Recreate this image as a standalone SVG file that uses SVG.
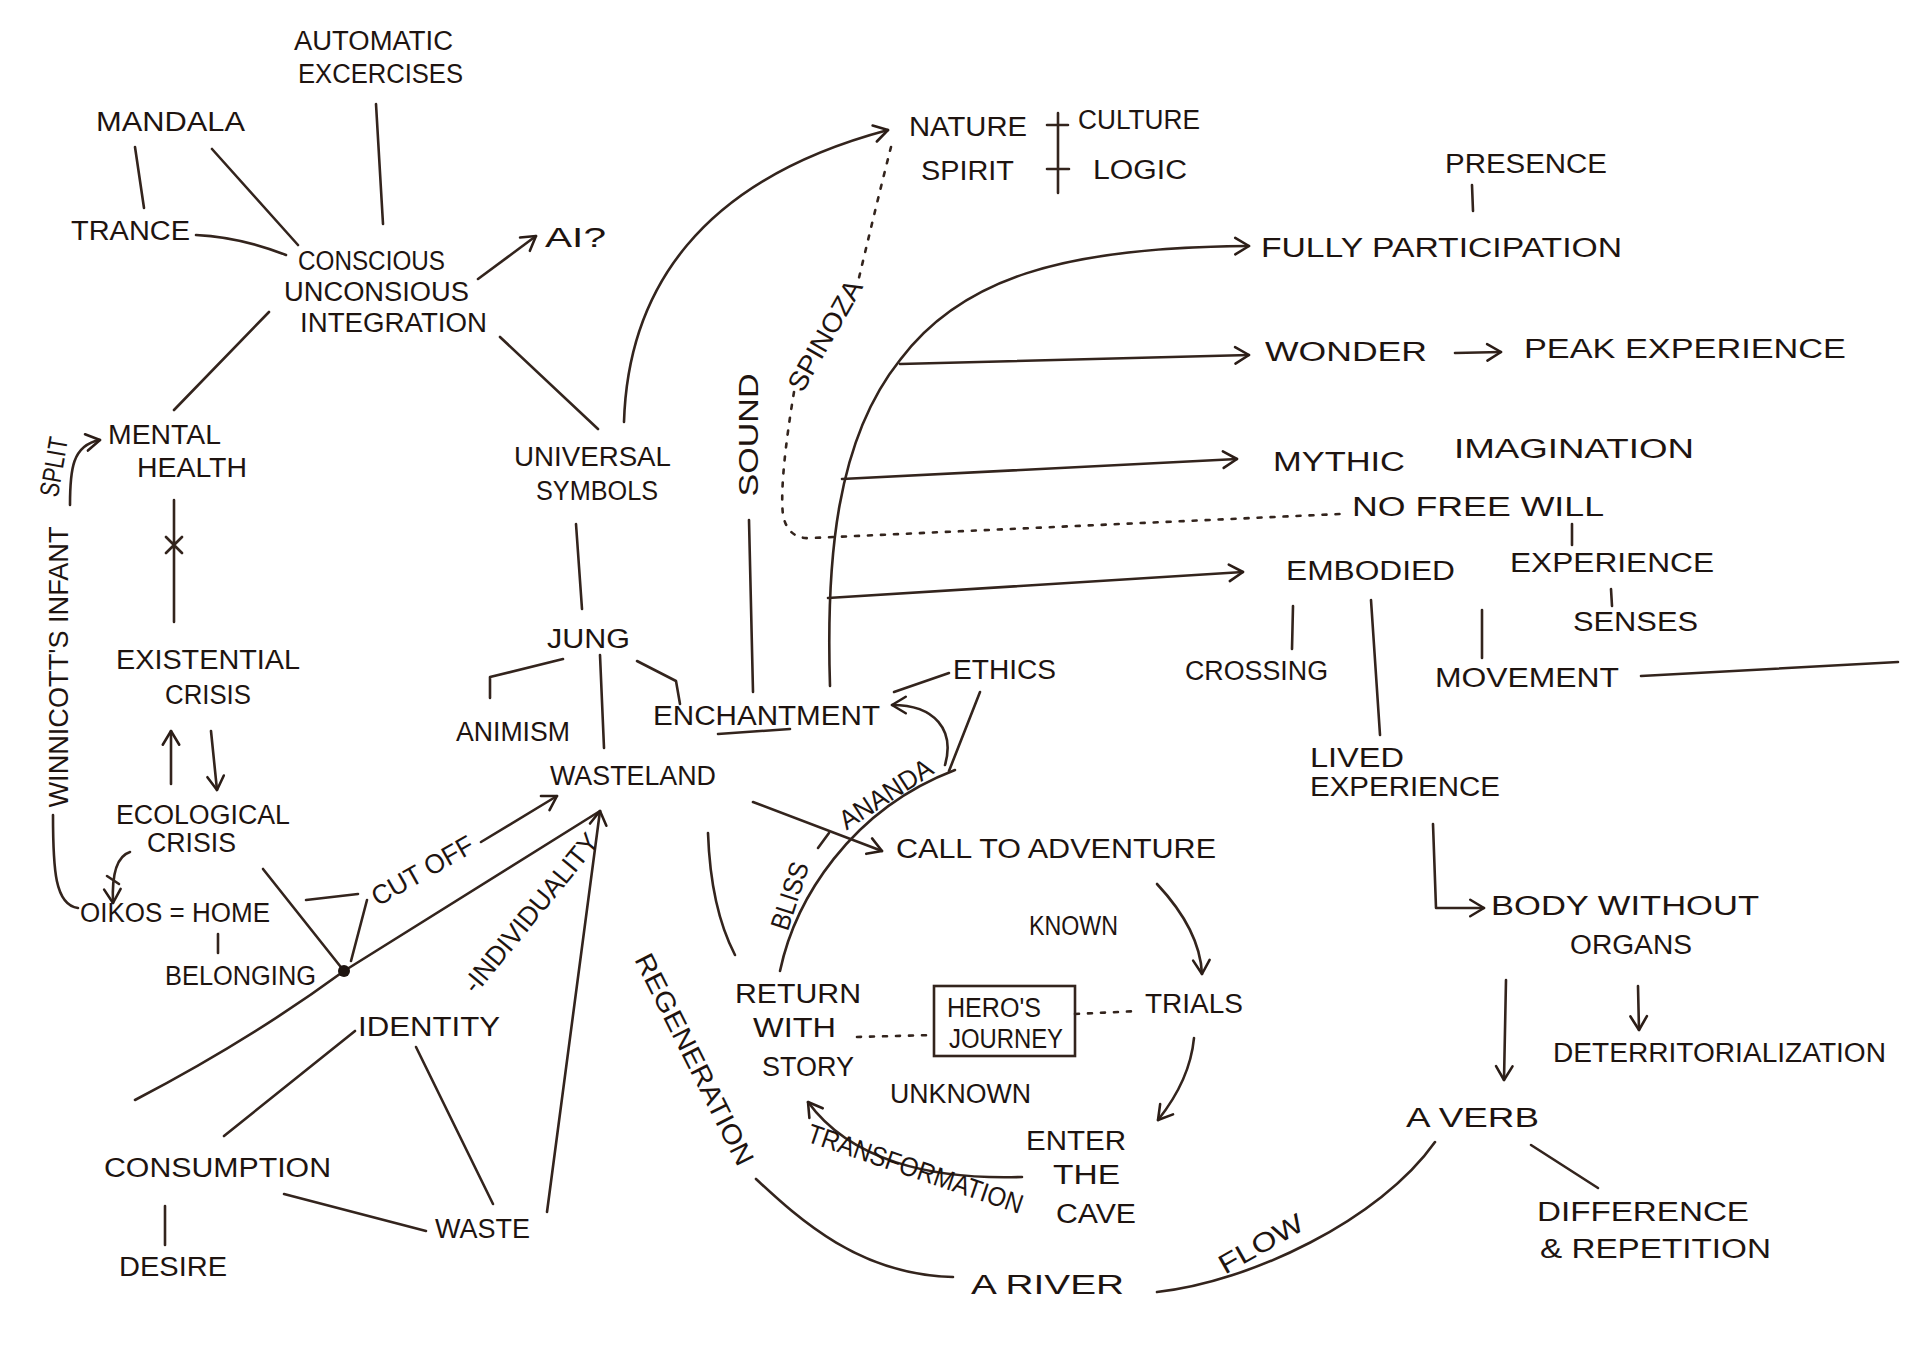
<svg xmlns="http://www.w3.org/2000/svg" width="1920" height="1358" viewBox="0 0 1920 1358">
<defs>
<style>
.t{font-family:"Liberation Sans",Arial,sans-serif;font-size:27px;fill:#1e1410;}
.c{fill:none;stroke:#33241d;stroke-width:2.6;stroke-linecap:round;stroke-linejoin:round;}
.d{fill:none;stroke:#33241d;stroke-width:2.6;stroke-linecap:round;stroke-dasharray:4 9;}
</style>
<marker id="ah" viewBox="0 0 24 24" refX="21" refY="12" markerWidth="22" markerHeight="22" markerUnits="userSpaceOnUse" orient="auto">
<path d="M6 3 L21 12 L6 21" fill="none" stroke="#2b1d17" stroke-width="2.8" stroke-linecap="round" stroke-linejoin="round"/>
</marker>
</defs>
<rect width="1920" height="1358" fill="#ffffff"/>

<g id="connectors">
<path class="c" d="M135 147 L144 208"/>
<path class="c" d="M212 149 L298 245"/>
<path class="c" d="M376 104 L383 224"/>
<path class="c" d="M196 235 Q240 237 286 255"/>
<path class="c" d="M478 279 L536 236" marker-end="url(#ah)"/>
<path class="c" d="M269 312 L174 410"/>
<path class="c" d="M500 337 L598 429"/>
<path class="c" d="M624 422 C628 290 700 180 888 130" marker-end="url(#ah)"/>
<path class="c" d="M576 524 L582 609"/>
<path class="c" d="M563 659 L490 677 L490 698"/>
<path class="c" d="M600 655 L604 748"/>
<path class="c" d="M637 661 L676 681 L680 704"/>
<path class="c" d="M749 520 L753 692"/>
<path class="c" d="M830 686 C826 560 836 440 900 360 C960 280 1060 247 1249 246" marker-end="url(#ah)"/>
<path class="c" d="M900 364 L1249 355" marker-end="url(#ah)"/>
<path class="c" d="M842 479 L1237 459" marker-end="url(#ah)"/>
<path class="c" d="M828 598 L1243 572" marker-end="url(#ah)"/>
<path class="c" d="M1455 353 L1501 352" marker-end="url(#ah)"/>
<path class="d" d="M891 147 C880 190 868 240 858 282"/>
<path class="d" d="M794 392 C786 440 780 490 783 515 Q788 540 812 538 L1340 514"/>
<path class="c" d="M1047 125 L1068 125 M1058 113 L1058 193 M1047 169 L1069 169"/>
<path class="c" d="M1472 185 L1473 211"/>
<path class="c" d="M1572 524 L1572 545"/>
<path class="c" d="M1611 589 L1612 606"/>
<path class="c" d="M1293 606 L1292 649"/>
<path class="c" d="M1371 600 L1380 735"/>
<path class="c" d="M1482 610 L1482 658"/>
<path class="c" d="M1641 676 L1898 662"/>
<path class="c" d="M1433 824 L1436 908 L1484 908" marker-end="url(#ah)"/>
<path class="c" d="M1506 980 L1504 1080" marker-end="url(#ah)"/>
<path class="c" d="M1638 986 L1639 1030" marker-end="url(#ah)"/>
<path class="c" d="M1531 1145 L1598 1188"/>
<path class="c" d="M1435 1142 C1380 1220 1250 1282 1157 1292"/>
<path class="c" d="M756 1179 C800 1220 860 1275 953 1277"/>
<path class="c" d="M753 802 L882 851" marker-end="url(#ah)"/>
<path class="c" d="M708 833 C710 890 722 930 735 955"/>
<path class="c" d="M780 971 C795 900 850 810 955 770"/>
<path class="c" d="M818 848 L829 833"/>
<path class="c" d="M945 765 C955 730 935 705 892 705" marker-end="url(#ah)"/>
<path class="c" d="M949 673 L894 692"/>
<path class="c" d="M980 692 L949 771"/>
<path class="c" d="M718 734 L790 729"/>
<path class="c" d="M1157 884 Q1200 930 1202 974" marker-end="url(#ah)"/>
<path class="c" d="M1194 1038 Q1190 1080 1158 1120" marker-end="url(#ah)"/>
<path class="c" d="M1022 1177 C930 1180 850 1160 808 1102" marker-end="url(#ah)"/>
<path class="d" d="M857 1037 L934 1035"/>
<path class="d" d="M1075 1014 L1139 1011"/>
<path class="c" d="M481 842 L557 796" marker-end="url(#ah)"/>
<path class="c" d="M306 900 L358 894 M367 900 L351 961"/>
<path class="c" d="M344 971 L600 811"/>
<path class="c" d="M547 1212 L600 811" marker-end="url(#ah)"/>
<path class="c" d="M344 971 Q250 1040 135 1100"/>
<path class="c" d="M263 869 L344 971"/>
<circle cx="344" cy="971" r="6" fill="#1e1410"/>
<path class="c" d="M355 1031 L224 1136"/>
<path class="c" d="M416 1047 L493 1204"/>
<path class="c" d="M284 1194 L426 1231"/>
<path class="c" d="M165 1206 L165 1245"/>
<path class="c" d="M218 934 L218 953"/>
<path class="c" d="M174 500 L174 622 M166 537 L182 553 M182 537 L166 553"/>
<path class="c" d="M171 784 L171 731" marker-end="url(#ah)"/>
<path class="c" d="M211 731 L217 790" marker-end="url(#ah)"/>
<path class="c" d="M107 876 L119 884"/>
<path class="c" d="M130 852 Q111 858 113 903" marker-end="url(#ah)"/>
<path class="c" d="M53 815 C53 870 55 905 78 908"/>
<path class="c" d="M70 505 C70 470 72 445 100 440" marker-end="url(#ah)"/>
</g>

<g id="automatic"><text class="t" x="294" y="50" font-size="28" textLength="159" lengthAdjust="spacingAndGlyphs">AUTOMATIC</text><text class="t" x="298" y="83" font-size="28" textLength="165" lengthAdjust="spacingAndGlyphs">EXCERCISES</text></g>
<g id="mandala"><text class="t" x="96" y="131" font-size="33" textLength="149" lengthAdjust="spacingAndGlyphs">MANDALA</text></g>
<g id="trance"><text class="t" x="71" y="240" font-size="31" textLength="119" lengthAdjust="spacingAndGlyphs">TRANCE</text></g>
<g id="conscious"><text class="t" x="298" y="270" font-size="26" textLength="147" lengthAdjust="spacingAndGlyphs">CONSCIOUS</text><text class="t" x="284" y="301" font-size="26" textLength="185" lengthAdjust="spacingAndGlyphs">UNCONSIOUS</text><text class="t" x="300" y="332" font-size="26" textLength="187" lengthAdjust="spacingAndGlyphs">INTEGRATION</text></g>
<g id="ai"><text class="t" x="545" y="247" font-size="46" textLength="61" lengthAdjust="spacingAndGlyphs">AI?</text></g>
<g id="mental-health"><text class="t" x="108" y="444" font-size="28" textLength="113" lengthAdjust="spacingAndGlyphs">MENTAL</text><text class="t" x="137" y="477" font-size="28" textLength="110" lengthAdjust="spacingAndGlyphs">HEALTH</text></g>
<g id="universal-symbols"><text class="t" x="514" y="466" font-size="28" textLength="157" lengthAdjust="spacingAndGlyphs">UNIVERSAL</text><text class="t" x="536" y="500" font-size="28" textLength="122" lengthAdjust="spacingAndGlyphs">SYMBOLS</text></g>
<g id="sound"><text class="t" transform="translate(747,435) rotate(-90)" x="0" y="11" font-size="30" text-anchor="middle" textLength="123" lengthAdjust="spacingAndGlyphs">SOUND</text></g>
<g id="spinoza"><text class="t" transform="translate(826,336) rotate(-60.3)" x="0" y="8" font-size="23" text-anchor="middle" textLength="123" lengthAdjust="spacingAndGlyphs">SPINOZA</text></g>
<g id="nature"><text class="t" x="909" y="136" font-size="30" textLength="118" lengthAdjust="spacingAndGlyphs">NATURE</text><text class="t" x="1078" y="129" font-size="28" textLength="122" lengthAdjust="spacingAndGlyphs">CULTURE</text><text class="t" x="921" y="180" font-size="28" textLength="93" lengthAdjust="spacingAndGlyphs">SPIRIT</text><text class="t" x="1093" y="179" font-size="28" textLength="94" lengthAdjust="spacingAndGlyphs">LOGIC</text></g>
<g id="presence"><text class="t" x="1445" y="173" font-size="29" textLength="162" lengthAdjust="spacingAndGlyphs">PRESENCE</text></g>
<g id="fully-participation"><text class="t" x="1261" y="257" font-size="42" textLength="361" lengthAdjust="spacingAndGlyphs">FULLY PARTICIPATION</text></g>
<g id="wonder"><text class="t" x="1265" y="361" font-size="33" textLength="162" lengthAdjust="spacingAndGlyphs">WONDER</text></g>
<g id="peak-experience"><text class="t" x="1524" y="358" font-size="33" textLength="322" lengthAdjust="spacingAndGlyphs">PEAK EXPERIENCE</text></g>
<g id="mythic-imagination"><text class="t" x="1273" y="471" font-size="37" textLength="132" lengthAdjust="spacingAndGlyphs">MYTHIC</text><text class="t" x="1454" y="458" font-size="38" textLength="240" lengthAdjust="spacingAndGlyphs">IMAGINATION</text></g>
<g id="no-free-will"><text class="t" x="1352" y="516" font-size="26" textLength="252" lengthAdjust="spacingAndGlyphs">NO FREE WILL</text></g>
<g id="embodied"><text class="t" x="1286" y="580" font-size="33" textLength="169" lengthAdjust="spacingAndGlyphs">EMBODIED</text></g>
<g id="experience"><text class="t" x="1510" y="572" font-size="31" textLength="204" lengthAdjust="spacingAndGlyphs">EXPERIENCE</text></g>
<g id="senses"><text class="t" x="1573" y="631" font-size="29" textLength="125" lengthAdjust="spacingAndGlyphs">SENSES</text></g>
<g id="crossing"><text class="t" x="1185" y="680" font-size="28" textLength="143" lengthAdjust="spacingAndGlyphs">CROSSING</text></g>
<g id="movement"><text class="t" x="1435" y="687" font-size="31" textLength="184" lengthAdjust="spacingAndGlyphs">MOVEMENT</text></g>
<g id="lived-experience"><text class="t" x="1310" y="767" font-size="29" textLength="94" lengthAdjust="spacingAndGlyphs">LIVED</text><text class="t" x="1310" y="796" font-size="29" textLength="190" lengthAdjust="spacingAndGlyphs">EXPERIENCE</text></g>
<g id="body-without-organs"><text class="t" x="1491" y="915" font-size="33" textLength="268" lengthAdjust="spacingAndGlyphs">BODY WITHOUT</text><text class="t" x="1570" y="954" font-size="33" textLength="122" lengthAdjust="spacingAndGlyphs">ORGANS</text></g>
<g id="deterritorialization"><text class="t" x="1553" y="1062" font-size="26" textLength="333" lengthAdjust="spacingAndGlyphs">DETERRITORIALIZATION</text></g>
<g id="a-verb"><text class="t" x="1406" y="1127" font-size="36" textLength="133" lengthAdjust="spacingAndGlyphs">A VERB</text></g>
<g id="difference-repetition"><text class="t" x="1537" y="1221" font-size="30" textLength="212" lengthAdjust="spacingAndGlyphs">DIFFERENCE</text><text class="t" x="1540" y="1258" font-size="30" textLength="231" lengthAdjust="spacingAndGlyphs">&amp; REPETITION</text></g>
<g id="a-river"><text class="t" x="971" y="1294" font-size="32" textLength="153" lengthAdjust="spacingAndGlyphs">A RIVER</text></g>
<g id="flow"><text class="t" transform="translate(1261,1244) rotate(-29.6)" x="0" y="9" font-size="26" text-anchor="middle" textLength="93" lengthAdjust="spacingAndGlyphs">FLOW</text></g>
<g id="regeneration"><text class="t" transform="translate(695,1059) rotate(63.4)" x="0" y="10" font-size="28" text-anchor="middle" textLength="233" lengthAdjust="spacingAndGlyphs">REGENERATION</text></g>
<g id="transformation"><text class="t" transform="translate(915,1170) rotate(18.8)" x="0" y="8" font-size="24" text-anchor="middle" textLength="226" lengthAdjust="spacingAndGlyphs">TRANSFORMATION</text></g>
<g id="enter-the-cave"><text class="t" x="1026" y="1150" font-size="29" textLength="100" lengthAdjust="spacingAndGlyphs">ENTER</text><text class="t" x="1053" y="1184" font-size="29" textLength="67" lengthAdjust="spacingAndGlyphs">THE</text><text class="t" x="1056" y="1223" font-size="29" textLength="80" lengthAdjust="spacingAndGlyphs">CAVE</text></g>
<g id="unknown"><text class="t" x="890" y="1103" font-size="22" textLength="141" lengthAdjust="spacingAndGlyphs">UNKNOWN</text></g>
<g id="heros-journey"><rect x="934" y="986" width="141" height="70" fill="none" stroke="#33241d" stroke-width="2.6"/><text class="t" x="947" y="1017" font-size="26" textLength="94" lengthAdjust="spacingAndGlyphs">HERO'S</text><text class="t" x="949" y="1048" font-size="26" textLength="114" lengthAdjust="spacingAndGlyphs">JOURNEY</text></g>
<g id="trials"><text class="t" x="1145" y="1013" font-size="30" textLength="98" lengthAdjust="spacingAndGlyphs">TRIALS</text></g>
<g id="known"><text class="t" x="1029" y="935" font-size="22" textLength="89" lengthAdjust="spacingAndGlyphs">KNOWN</text></g>
<g id="return-with-story"><text class="t" x="735" y="1003" font-size="30" textLength="126" lengthAdjust="spacingAndGlyphs">RETURN</text><text class="t" x="753" y="1037" font-size="30" textLength="83" lengthAdjust="spacingAndGlyphs">WITH</text><text class="t" x="762" y="1076" font-size="30" textLength="92" lengthAdjust="spacingAndGlyphs">STORY</text></g>
<g id="call-to-adventure"><text class="t" x="896" y="858" font-size="31" textLength="320" lengthAdjust="spacingAndGlyphs">CALL TO ADVENTURE</text></g>
<g id="bliss"><text class="t" transform="translate(790,896) rotate(-72)" x="0" y="9" font-size="26" text-anchor="middle" textLength="70" lengthAdjust="spacingAndGlyphs">BLISS</text></g>
<g id="ananda"><text class="t" transform="translate(886,794) rotate(-33)" x="0" y="9" font-size="26" text-anchor="middle" textLength="106" lengthAdjust="spacingAndGlyphs">ANANDA</text></g>
<g id="ethics"><text class="t" x="953" y="679" font-size="29" textLength="103" lengthAdjust="spacingAndGlyphs">ETHICS</text></g>
<g id="enchantment"><text class="t" x="653" y="725" font-size="30" textLength="227" lengthAdjust="spacingAndGlyphs">ENCHANTMENT</text></g>
<g id="jung"><text class="t" x="547" y="648" font-size="31" textLength="83" lengthAdjust="spacingAndGlyphs">JUNG</text></g>
<g id="animism"><text class="t" x="456" y="741" font-size="28" textLength="114" lengthAdjust="spacingAndGlyphs">ANIMISM</text></g>
<g id="wasteland"><text class="t" x="550" y="785" font-size="34" textLength="166" lengthAdjust="spacingAndGlyphs">WASTELAND</text></g>
<g id="existential-crisis"><text class="t" x="116" y="669" font-size="28" textLength="184" lengthAdjust="spacingAndGlyphs">EXISTENTIAL</text><text class="t" x="165" y="704" font-size="28" textLength="86" lengthAdjust="spacingAndGlyphs">CRISIS</text></g>
<g id="ecological-crisis"><text class="t" x="116" y="824" font-size="27" textLength="174" lengthAdjust="spacingAndGlyphs">ECOLOGICAL</text><text class="t" x="147" y="852" font-size="27" textLength="89" lengthAdjust="spacingAndGlyphs">CRISIS</text></g>
<g id="winnicott"><text class="t" transform="translate(58,667) rotate(-90)" x="0" y="10" font-size="28" text-anchor="middle" textLength="281" lengthAdjust="spacingAndGlyphs">WINNICOTT'S INFANT</text></g>
<g id="split"><text class="t" transform="translate(55,467) rotate(-80)" x="0" y="8" font-size="23" text-anchor="middle" textLength="60" lengthAdjust="spacingAndGlyphs">SPLIT</text></g>
<g id="oikos"><text class="t" x="80" y="922" font-size="27" textLength="190" lengthAdjust="spacingAndGlyphs">OIKOS = HOME</text></g>
<g id="belonging"><text class="t" x="165" y="985" font-size="27" textLength="151" lengthAdjust="spacingAndGlyphs">BELONGING</text></g>
<g id="cut-off"><text class="t" transform="translate(422,870) rotate(-29.7)" x="0" y="10" font-size="28" text-anchor="middle" textLength="113" lengthAdjust="spacingAndGlyphs">CUT OFF</text></g>
<g id="individuality"><text class="t" transform="translate(531,913) rotate(-50.7)" x="0" y="9" font-size="25" text-anchor="middle" textLength="197" lengthAdjust="spacingAndGlyphs">-INDIVIDUALITY</text></g>
<g id="identity"><text class="t" x="358" y="1036" font-size="30" textLength="142" lengthAdjust="spacingAndGlyphs">IDENTITY</text></g>
<g id="consumption"><text class="t" x="104" y="1177" font-size="32" textLength="227" lengthAdjust="spacingAndGlyphs">CONSUMPTION</text></g>
<g id="desire"><text class="t" x="119" y="1276" font-size="30" textLength="108" lengthAdjust="spacingAndGlyphs">DESIRE</text></g>
<g id="waste"><text class="t" x="435" y="1238" font-size="27" textLength="95" lengthAdjust="spacingAndGlyphs">WASTE</text></g>
</svg>
